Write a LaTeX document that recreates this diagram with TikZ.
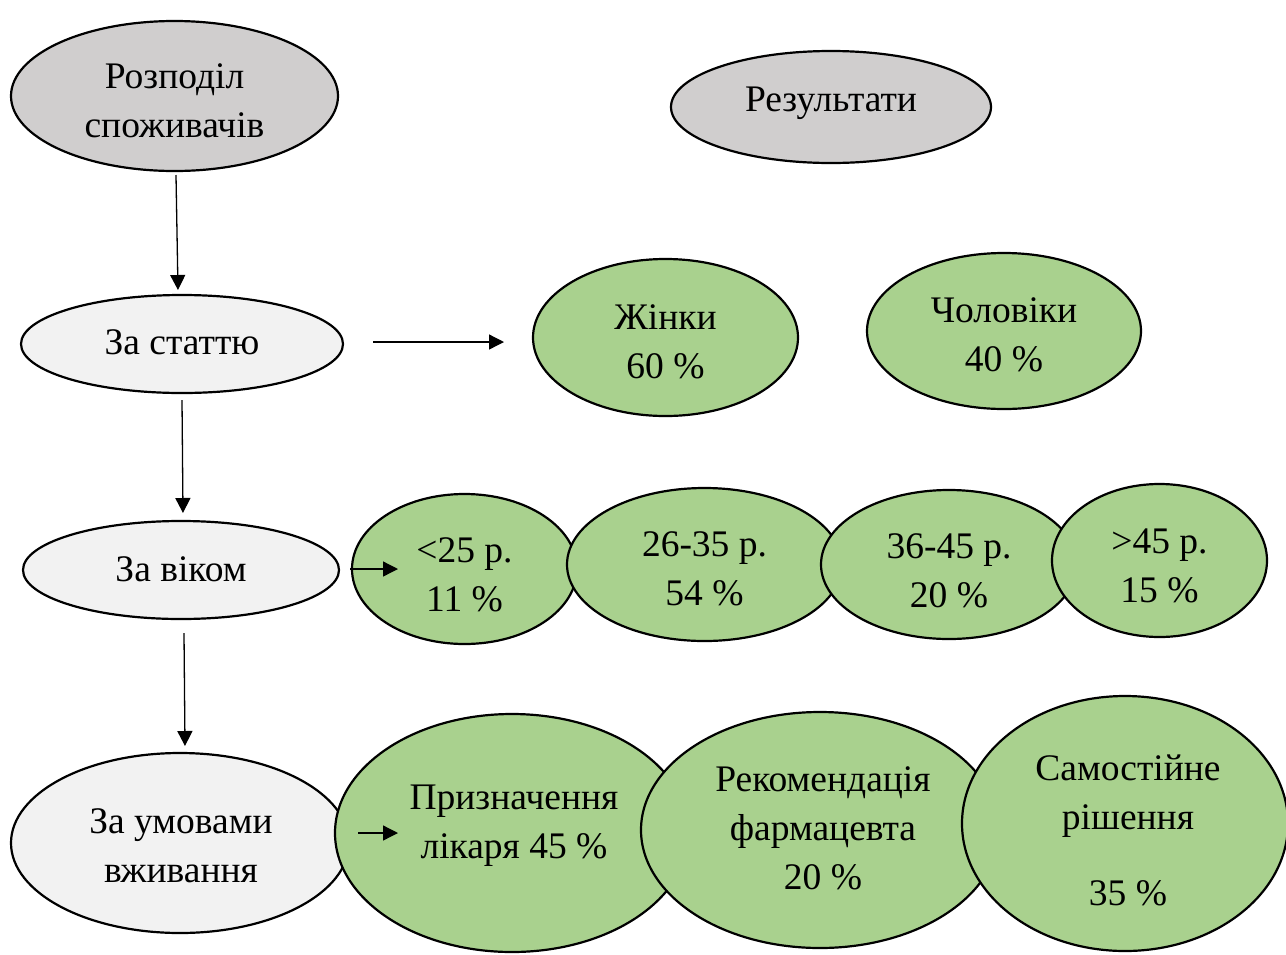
\documentclass[tikz,border=0pt]{standalone}
\usepackage{fontspec}
\setmainfont{Liberation Serif}
\usetikzlibrary{shapes.geometric,arrows.meta}
\definecolor{headgray}{HTML}{D0CECE}
\definecolor{catgray}{HTML}{F2F2F2}
\definecolor{resgreen}{HTML}{A9D18E}
\tikzset{
  ell/.style={ellipse, draw=black, line width=2.2pt, inner sep=0pt},
  head/.style={ell, fill=headgray},
  cat/.style={ell, fill=catgray},
  res/.style={ell, fill=resgreen},
  txt/.style={align=center, inner sep=0pt, font=\fontsize{37.5}{49}\selectfont,
    execute at begin node=\strut, execute at end node=\strut},
  arr/.style={line width=1.3pt, -{Triangle[length=15pt,width=15pt]}}
}
\begin{document}
\begin{tikzpicture}[x=1pt,y=-1pt]
\clip (0,0) rectangle (1286,954);
\fill[white] (0,0) rectangle (1286,954);
% headers
\node[head, minimum width=327pt, minimum height=150pt] (e1) at (174.5,96) {};
\node[txt] (t1) at (174.5,108) {Розподіл\\споживачів};
\node[head, minimum width=320pt, minimum height=112pt] (e2) at (831,107) {};
\node[txt] (t2) at (831,102) {Результати};
% by sex
\node[cat, minimum width=322pt, minimum height=98pt] (e3) at (182,344) {};
\node[txt] (t3) at (182,345) {За статтю};
\node[res, minimum width=265pt, minimum height=157pt] (e4) at (665.5,337.5) {};
\node[txt] (t4) at (665.5,348.5) {Жінки\\60 \%};
\node[res, minimum width=274pt, minimum height=156pt] (e5) at (1004,331) {};
\node[txt] (t5) at (1004,342) {Чоловіки\\40 \%};
% by age
\node[cat, minimum width=316pt, minimum height=98pt] (e6) at (181,570) {};
\node[txt] (t6) at (181,572) {За віком};
\node[res, minimum width=225pt, minimum height=150pt] (e7) at (464.5,569) {};
\node[txt] (t7) at (464.5,582) {<25 р.\\11 \%};
\node[res, minimum width=275pt, minimum height=153pt] (e8) at (704.5,564.5) {};
\node[txt] (t8) at (704.5,576) {26-35 р.\\54 \%};
\node[res, minimum width=256pt, minimum height=149pt] (e9) at (949,564.5) {};
\node[txt] (t9) at (949,578) {36-45 р.\\20 \%};
\node[res, minimum width=215pt, minimum height=153pt] (e10) at (1159.5,560.5) {};
\node[txt] (t10) at (1159.5,573) {>45 р.\\15 \%};
% by conditions
\node[cat, minimum width=338pt, minimum height=180pt] (e11) at (180,843) {};
\node[txt] (t11) at (181,853) {За умовами\\вживання};
\node[res, minimum width=354pt, minimum height=238pt] (e12) at (512,833) {};
\node[txt] (t12) at (514,829) {Призначення\\лікаря 45 \%};
\node[res, minimum width=358pt, minimum height=236pt] (e13) at (820,830) {};
\node[txt] (t13) at (823,835) {Рекомендація\\фармацевта\\20 \%};
\node[res, minimum width=326pt, minimum height=255pt] (e14) at (1125,823.5) {};
\node[txt] (t14) at (1128,838) {Самостійне\\рішення\\[27pt]35 \%};
% connectors
\coordinate (a1s) at (176,175);
\coordinate (a1e) at (178,290);
\coordinate (a2s) at (182,400);
\coordinate (a2e) at (183,513);
\coordinate (a3s) at (184,633);
\coordinate (a3e) at (185,746);
\coordinate (h1s) at (373,342);
\coordinate (h1e) at (504,342);
\coordinate (h2s) at (350,569);
\coordinate (h2e) at (398,569);
\coordinate (h3s) at (358,833);
\coordinate (h3e) at (398,833);
\draw[arr] (a1s) -- (a1e);
\draw[arr] (a2s) -- (a2e);
\draw[arr] (a3s) -- (a3e);
\draw[arr] (h1s) -- (h1e);
\draw[arr] (h2s) -- (h2e);
\draw[arr] (h3s) -- (h3e);
\end{tikzpicture}
\end{document}
